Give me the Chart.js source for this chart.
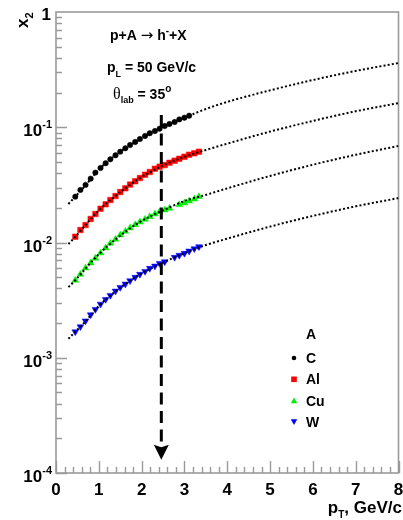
<!DOCTYPE html>
<html>
<head>
<meta charset="utf-8">
<script src="https://cdn.jsdelivr.net/npm/chart.js"></script>
<style>
  html, body { margin: 0; padding: 0; background: #fff; }
  canvas { display: block; }
</style>
</head>
<body>
<canvas id="chart" width="403" height="520"></canvas>
<script>
// x2 vs pT for p+A -> h- + X, pL = 50 GeV/c, theta_lab = 35 deg
const ptC  = [0.45,0.57,0.69,0.81,0.92,1.04,1.16,1.27,1.39,1.50,1.62,1.73,1.85,1.96,2.08,2.19,2.31,2.42,2.54,2.65,2.77,2.88,3.00,3.11];
const x2C  = [0.0250,0.0286,0.0316,0.0358,0.0404,0.0443,0.0487,0.0527,0.0571,0.0614,0.0657,0.0701,0.0745,0.0791,0.0840,0.0887,0.0927,0.0971,0.1025,0.1067,0.111,0.117,0.121,0.126];

const ptAl = [0.45,0.57,0.69,0.81,0.92,1.04,1.16,1.27,1.39,1.50,1.62,1.73,1.85,1.96,2.08,2.19,2.31,2.42,2.54,2.65,2.77,2.88,3.00,3.11,3.23,3.34];
const x2Al = [0.01122,0.01283,0.01418,0.0160,0.01767,0.01964,0.02144,0.02337,0.0253,0.0274,0.0295,0.0318,0.0340,0.0363,0.0388,0.0409,0.0437,0.0455,0.0470,0.0492,0.0513,0.0533,0.0555,0.0578,0.0594,0.0614];

const ptCu = [0.45,0.57,0.69,0.81,0.92,1.04,1.16,1.27,1.39,1.50,1.62,1.73,1.85,1.96,2.08,2.19,2.31,2.42,2.54,2.65,2.88,3.00,3.11,3.23,3.34];
const x2Cu = [0.0047,0.0053,0.0060,0.00664,0.0073,0.0081,0.00896,0.00984,0.01066,0.01161,0.0125,0.01336,0.01427,0.01507,0.0159,0.01675,0.01767,0.0185,0.01914,0.0198,0.0213,0.0220,0.0229,0.0238,0.0250];

const ptW  = [0.45,0.57,0.69,0.81,0.92,1.04,1.16,1.27,1.39,1.50,1.62,1.73,1.85,1.96,2.08,2.19,2.31,2.42,2.54,2.77,2.88,3.00,3.11,3.23,3.34];
const x2W  = [0.00168,0.00186,0.00209,0.00236,0.00263,0.00292,0.00321,0.00348,0.00379,0.00408,0.00436,0.00466,0.00499,0.0053,0.00562,0.00597,0.00625,0.00659,0.00681,0.00744,0.00775,0.00806,0.00844,0.00884,0.0092];

// dotted curves (fit)
const ptFit = [0.29,0.45,0.7,1.0,1.4,1.9,2.5,3.0,3.5,4,5,6,7,8];
const fitC  = [0.0216,0.0250,0.0316,0.0430,0.0575,0.0765,0.101,0.121,0.144,0.166,0.209,0.257,0.308,0.361];
const fitAl = [0.0097,0.0112,0.0143,0.0190,0.0255,0.0350,0.0465,0.0555,0.0635,0.0721,0.0917,0.1135,0.1376,0.162];
const fitCu = [0.0041,0.0047,0.0060,0.0079,0.0107,0.0146,0.0190,0.0229,0.0259,0.0295,0.0378,0.0473,0.0577,0.0688];
const fitW  = [0.00146,0.00168,0.00209,0.00282,0.00379,0.00513,0.0067,0.00806,0.0095,0.0108,0.01374,0.0170,0.0206,0.0243];

// dashed arrow at pT ~ 2.5
const arrowPt = 2.46;
const arrowFrom = 0.128;
const arrowTo = 1.3e-4;

const xTicks = [0,1,2,3,4,5,6,7,8];
const yDecades = [-4,-3,-2,-1,0];
const legendNames = ['C','Al','Cu','W'];

const FONT = '"Liberation Sans", Arial, sans-serif';
const AXIS = '#9a9a9a';

const pts = (xs, ys) => xs.map((x, i) => ({ x, y: ys[i] }));

function fitSet(ys) {
  return {
    data: pts(ptFit, ys), showLine: true, pointRadius: 0,
    borderColor: '#000', borderWidth: 2, borderDash: [2, 2.2],
    cubicInterpolationMode: 'monotone', fill: false,
  };
}
function markSet(xs, ys, color, style, r, rot) {
  return {
    data: pts(xs, ys), showLine: false, pointStyle: style, pointRadius: r,
    pointRotation: rot || 0, backgroundColor: color, borderColor: color, borderWidth: 0.5,
  };
}

// rich text: parts = [text, size, dy, bold, family]
function rich(ctx, x, y, parts, align) {
  const fnt = p => (p[3] === false ? '' : 'bold ') + p[1] + 'px ' + (p[4] || FONT);
  let w = 0;
  parts.forEach(p => { ctx.font = fnt(p); w += ctx.measureText(p[0]).width; });
  let cx = align === 'right' ? x - w : align === 'center' ? x - w / 2 : x;
  ctx.textAlign = 'left';
  parts.forEach(p => {
    ctx.font = fnt(p);
    ctx.fillText(p[0], cx, y + (p[2] || 0));
    cx += ctx.measureText(p[0]).width;
  });
}

function marker(ctx, style, x, y, r, color) {
  ctx.fillStyle = color;
  ctx.beginPath();
  if (style === 'circle') ctx.arc(x, y, r, 0, Math.PI * 2);
  else if (style === 'rect') ctx.rect(x - r, y - r, 2 * r, 2 * r);
  else if (style === 'up') { ctx.moveTo(x, y - r); ctx.lineTo(x + r, y + r * 0.8); ctx.lineTo(x - r, y + r * 0.8); }
  else { ctx.moveTo(x, y + r); ctx.lineTo(x + r, y - r * 0.8); ctx.lineTo(x - r, y - r * 0.8); }
  ctx.closePath();
  ctx.fill();
}

const decor = {
  id: 'decor',
  beforeDatasetsDraw(chart) {
    const { ctx, chartArea: a, scales: { x, y } } = chart;
    ctx.save();
    ctx.strokeStyle = AXIS;
    ctx.lineWidth = 1.6;
    ctx.strokeRect(a.left, a.top, a.right - a.left, a.bottom - a.top);
    ctx.lineWidth = 1.4;
    ctx.beginPath();
    // x ticks
    for (let v = 0; v <= 8.001; v += 0.2) {
      const px = Math.round(x.getPixelForValue(v)) + 0.5;
      const major = Math.abs(v - Math.round(v)) < 1e-6;
      ctx.moveTo(px, a.bottom);
      ctx.lineTo(px, a.bottom - (major ? 12 : 6));
    }
    // y ticks
    yDecades.forEach(d => {
      if (d >= 0) return;
      for (let m = 1; m <= 9; m++) {
        const py = Math.round(y.getPixelForValue(m * Math.pow(10, d))) + 0.5;
        ctx.moveTo(a.left, py);
        ctx.lineTo(a.left + (m === 1 ? 11 : 6), py);
      }
    });
    ctx.stroke();
    ctx.restore();
  },
  afterDatasetsDraw(chart) {
    const { ctx, scales: { x, y } } = chart;
    const ax = x.getPixelForValue(arrowPt);
    const y0 = y.getPixelForValue(arrowFrom);
    const y1 = y.getPixelForValue(arrowTo);
    ctx.save();
    ctx.strokeStyle = '#000';
    ctx.lineWidth = 3;
    ctx.setLineDash([12, 6.5]);
    ctx.beginPath();
    ctx.moveTo(ax, y0);
    ctx.lineTo(ax, y1 - 12);
    ctx.stroke();
    ctx.setLineDash([]);
    ctx.fillStyle = '#000';
    ctx.beginPath();
    ctx.moveTo(ax, y1);
    ctx.lineTo(ax - 7.5, y1 - 15);
    ctx.lineTo(ax, y1 - 12.5);
    ctx.lineTo(ax + 7.5, y1 - 15);
    ctx.closePath();
    ctx.fill();
    ctx.restore();
  },
  afterDraw(chart) {
    const { ctx, chartArea: a, scales: { x, y } } = chart;
    ctx.save();
    ctx.fillStyle = '#000';
    ctx.textBaseline = 'alphabetic';
    // x tick labels
    xTicks.forEach(v => {
      rich(ctx, x.getPixelForValue(v), 495, [[String(v), 17]], 'center');
    });
    // y tick labels
    yDecades.forEach(d => {
      const py = y.getPixelForValue(Math.pow(10, d));
      if (d === 0) rich(ctx, 51, py + 8, [['1', 17]], 'right');
      else rich(ctx, 52, py + 9, [['10', 17], ['-' + (-d), 11, -8]], 'right');
    });
    // axis titles
    rich(ctx, 402, 513, [['p', 17], ['T', 10, 5], [', GeV/c', 17]], 'right');
    ctx.save();
    ctx.translate(28, 28);
    ctx.rotate(-Math.PI / 2);
    rich(ctx, 0, 0, [['x', 17], ['2', 11, 5]], 'left');
    ctx.restore();
    // annotations
    const SYM = '"DejaVu Sans", sans-serif';
    rich(ctx, 110, 40, [['p+A ', 14], ['\u2192', 15, 0, false, SYM], [' h', 14], ['-', 10, -6], ['+X', 14]], 'left');
    rich(ctx, 107, 72, [['p', 14], ['L', 9, 5], [' = 50 GeV/c', 14]], 'left');
    rich(ctx, 113, 99, [['\u03b8', 16, 0, false, '"Liberation Serif", serif'], ['lab', 9, 4], [' = 35', 14], ['o', 10, -7]], 'left');
    // legend
    rich(ctx, 311, 339, [['A', 14]], 'center');
    const colors = ['#000', '#ff0000', '#00ee00', '#0000ff'];
    const styles = ['circle', 'rect', 'up', 'down'];
    const sizes = [2.3, 2.8, 3.2, 3.2];
    legendNames.forEach((n, i) => {
      const ly = 358 + i * 21.3;
      marker(ctx, styles[i], 294, ly, sizes[i], colors[i]);
      ctx.fillStyle = '#000';
      rich(ctx, 306, ly + 5, [[n, 14]], 'left');
    });
    ctx.restore();
  }
};

new Chart(document.getElementById('chart'), {
  type: 'scatter',
  data: {
    datasets: [
      fitSet(fitC), fitSet(fitAl), fitSet(fitCu), fitSet(fitW),
      markSet(ptC, x2C, '#000000', 'circle', 2.7),
      markSet(ptAl, x2Al, '#ff0000', 'rect', 3.9),
      markSet(ptCu, x2Cu, '#00ee00', 'triangle', 3.9),
      markSet(ptW, x2W, '#0000ff', 'triangle', 3.9, 180),
    ]
  },
  options: {
    responsive: false,
    animation: false,
    layout: { padding: { top: 12, right: 2, left: 0, bottom: 0 } },
    plugins: { legend: { display: false }, tooltip: { enabled: false } },
    scales: {
      x: {
        type: 'linear', min: 0, max: 8,
        ticks: { display: false }, grid: { display: false }, border: { display: false },
        afterFit: s => { s.height = 47; },
      },
      y: {
        type: 'logarithmic', min: 1e-4, max: 1,
        ticks: { display: false }, grid: { display: false }, border: { display: false },
        afterFit: s => { s.width = 56; },
      }
    }
  },
  plugins: [decor]
});
</script>
</body>
</html>
